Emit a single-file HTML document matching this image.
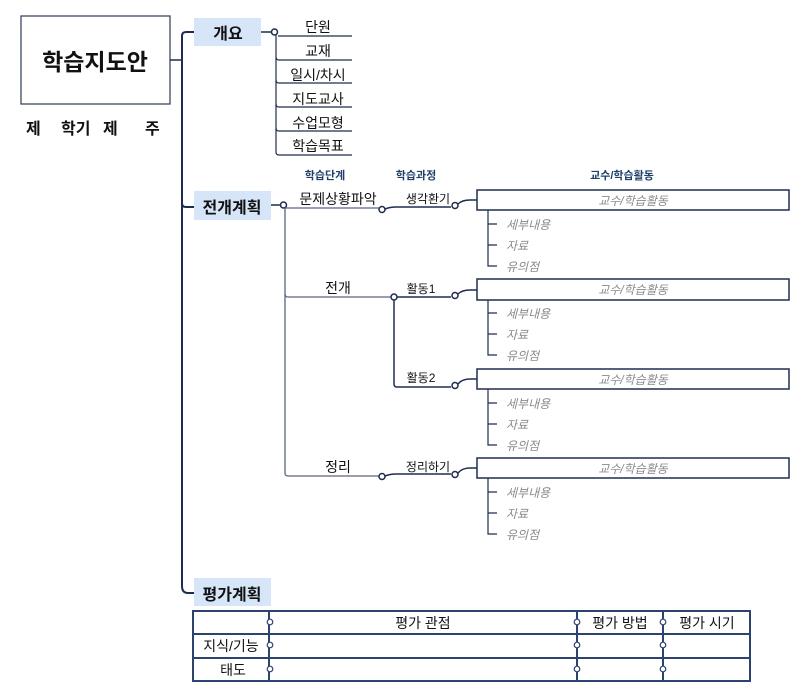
<!DOCTYPE html>
<html><head><meta charset="utf-8"><style>
html,body{margin:0;padding:0;background:#fff;}
svg{display:block;}
text{font-family:"Liberation Sans","Noto Sans CJK KR",sans-serif;}
</style></head><body>
<svg width="810" height="695" viewBox="0 0 810 695" xmlns="http://www.w3.org/2000/svg">
<g fill="none" stroke="#1e2d4e" stroke-width="1.5">
<rect x="21" y="16" width="149" height="88" stroke="#2b3a55" stroke-width="1.2"/>
<line x1="170" y1="60" x2="182" y2="60"/>
<path d="M182,586 V36 Q182,32 186,32 H194" stroke-width="2"/>
<path d="M182,203 Q182,207 186,207 H194" stroke-width="2"/>
<path d="M182,586 Q182,593 188,593 H194" stroke-width="2"/>
<line x1="261" y1="32" x2="271" y2="32"/>
<circle cx="274.5" cy="32" r="3" fill="#fff"/>
<path d="M276,35 V152 Q276,155 279,155 H352" stroke-width="1.2"/>
<line x1="278" y1="36" x2="352" y2="36" stroke-width="1.2"/>
<path d="M276,57 Q276,60 279,60 H352" stroke-width="1.2"/>
<path d="M276,80 Q276,83 279,83 H352" stroke-width="1.2"/>
<path d="M276,104 Q276,107 279,107 H352" stroke-width="1.2"/>
<path d="M276,128 Q276,131 279,131 H352" stroke-width="1.2"/>
<line x1="271" y1="205" x2="280" y2="205"/>
<circle cx="283.5" cy="205" r="3" fill="#fff"/>
<path d="M285,208 V473 Q285,476 288,476 H379" stroke="#5a6580" stroke-width="1.3"/>
<line x1="285" y1="208" x2="379" y2="208" stroke="#5a6580" stroke-width="1.3"/>
<path d="M285,294 Q285,297 288,297 H391" stroke="#5a6580" stroke-width="1.3"/>
<circle cx="382" cy="209.5" r="3" fill="#fff"/>
<path d="M385,209 Q390,207 396,207 H451"/>
<circle cx="455" cy="205.5" r="3" fill="#fff"/>
<path d="M458,204 Q462,200 470,200 H477"/>
<circle cx="394" cy="297" r="3" fill="#fff"/>
<line x1="397" y1="297" x2="451" y2="297"/>
<path d="M394,300 V384 Q394,387 397,387 H451"/>
<circle cx="455" cy="295.5" r="3" fill="#fff"/>
<path d="M458,294 Q462,290 470,290 H477"/>
<circle cx="455" cy="385.5" r="3" fill="#fff"/>
<path d="M458,384 Q462,379 470,379 H477"/>
<circle cx="382" cy="476.5" r="3" fill="#fff"/>
<path d="M385,476 Q390,474 396,474 H451"/>
<circle cx="455" cy="474.5" r="3" fill="#fff"/>
<path d="M458,473 Q462,468 470,468 H477"/>
<rect x="477" y="190" width="312" height="20"/>
<rect x="477" y="279" width="312" height="21"/>
<rect x="477" y="369" width="312" height="20"/>
<rect x="477" y="458" width="312" height="20"/>
<path d="M488,210 V266 H497 M488,224 H497 M488,245 H497" stroke-width="1.2"/>
<path d="M488,300 V355 H497 M488,313 H497 M488,334 H497" stroke-width="1.2"/>
<path d="M488,389 V445 H497 M488,403 H497 M488,424 H497" stroke-width="1.2"/>
<path d="M488,478 V534 H497 M488,492 H497 M488,513 H497" stroke-width="1.2"/>
<g stroke="#2c4370" stroke-width="2">
<rect x="193" y="611" width="557" height="70"/>
<line x1="193" y1="634" x2="750" y2="634"/>
<line x1="193" y1="658" x2="750" y2="658"/>
<line x1="269" y1="611" x2="269" y2="681"/>
<line x1="577" y1="611" x2="577" y2="681"/>
<line x1="663" y1="611" x2="663" y2="681"/>
</g>
<g fill="#fff" stroke="#2c4370" stroke-width="1.2">
<circle cx="270" cy="622" r="2.8"/><circle cx="270" cy="645" r="2.8"/><circle cx="270" cy="669" r="2.8"/>
<circle cx="577" cy="622" r="2.8"/><circle cx="577" cy="645" r="2.8"/><circle cx="577" cy="669" r="2.8"/>
<circle cx="663" cy="622" r="2.8"/><circle cx="663" cy="645" r="2.8"/><circle cx="663" cy="669" r="2.8"/>
</g>
</g>
<rect x="194" y="18" width="67" height="28" fill="#d6e6f8"/>
<rect x="194" y="191" width="77" height="29" fill="#d6e6f8"/>
<rect x="194" y="578" width="77" height="28" fill="#d6e6f8"/>
<g fill="#111" text-anchor="middle">
<text x="95" y="70" font-size="23" font-weight="bold">학습지도안</text>
<text x="228" y="39" font-size="16" font-weight="bold">개요</text>
<text x="232" y="213" font-size="16" font-weight="bold">전개계획</text>
<text x="232" y="600" font-size="16" font-weight="bold">평가계획</text>
<g font-size="14">
<text x="318" y="32">단원</text>
<text x="318" y="56">교재</text>
<text x="318" y="80">일시/차시</text>
<text x="318" y="104">지도교사</text>
<text x="318" y="128">수업모형</text>
<text x="318" y="151">학습목표</text>
<text x="338" y="204">문제상황파악</text>
<text x="338" y="293">전개</text>
<text x="338" y="472">정리</text>
<text x="423" y="628">평가 관점</text>
<text x="620" y="628">평가 방법</text>
<text x="707" y="628">평가 시기</text>
<text x="231" y="651">지식/기능</text>
<text x="233" y="675">태도</text>
</g>
<g font-size="12">
<text x="428" y="203">생각환기</text>
<text x="421" y="293">활동1</text>
<text x="421" y="382">활동2</text>
<text x="428" y="471">정리하기</text>
</g>
<g font-size="11" font-weight="bold" fill="#1f3f6a">
<text x="325" y="179">학습단계</text>
<text x="416" y="179">학습과정</text>
<text x="622" y="179">교수/학습활동</text>
</g>
<g font-size="12" font-style="italic" fill="#8a8a8a">
<text x="633" y="205">교수/학습활동</text>
<text x="633" y="294">교수/학습활동</text>
<text x="633" y="384">교수/학습활동</text>
<text x="633" y="473">교수/학습활동</text>
</g>
</g>
<g font-size="12" font-style="italic" fill="#8a8a8a">
<text x="506" y="229">세부내용</text><text x="506" y="250">자료</text><text x="506" y="271">유의점</text>
<text x="506" y="318">세부내용</text><text x="506" y="339">자료</text><text x="506" y="360">유의점</text>
<text x="506" y="408">세부내용</text><text x="506" y="429">자료</text><text x="506" y="450">유의점</text>
<text x="506" y="497">세부내용</text><text x="506" y="518">자료</text><text x="506" y="539">유의점</text>
</g>
<g font-size="16" font-weight="bold" fill="#111">
<text x="26" y="134">제</text><text x="61" y="134">학기</text><text x="103" y="134">제</text><text x="145" y="134">주</text>
</g>
</svg>
</body></html>
